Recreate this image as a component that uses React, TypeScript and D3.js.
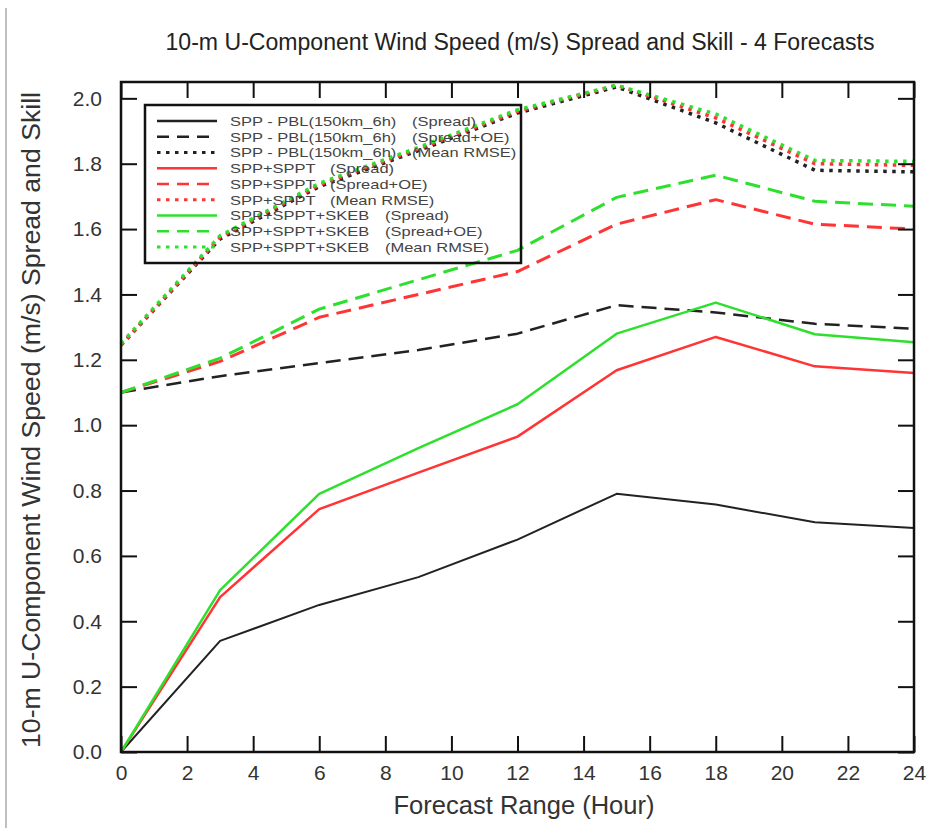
import React, { useRef, useEffect } from "react";
import * as d3 from "d3";

// forecast hours
const hours = [0, 3, 6, 9, 12, 15, 18, 21, 24];

// SPP - PBL(150km_6h)
const pblSpread = [0, 0.34, 0.45, 0.535, 0.65, 0.79, 0.757, 0.703, 0.685];
const pblSpreadOE = [1.1, 1.15, 1.19, 1.23, 1.28, 1.367, 1.345, 1.31, 1.295];
const pblRmse = [1.245, 1.57, 1.73, 1.84, 1.955, 2.035, 1.925, 1.78, 1.775];

// SPP+SPPT
const spptSpread = [0, 0.474, 0.743, 0.855, 0.965, 1.168, 1.27, 1.18, 1.16];
const spptSpreadOE = [1.1, 1.195, 1.33, 1.4, 1.47, 1.615, 1.69, 1.615, 1.6];
const spptRmse = [1.245, 1.575, 1.735, 1.845, 1.96, 2.04, 1.94, 1.8, 1.795];

// SPP+SPPT+SKEB
const skebSpread = [0, 0.495, 0.79, 0.93, 1.064, 1.28, 1.375, 1.278, 1.254];
const skebSpreadOE = [1.1, 1.205, 1.355, 1.445, 1.535, 1.697, 1.765, 1.685, 1.67];
const skebRmse = [1.25, 1.58, 1.74, 1.85, 1.965, 2.04, 1.952, 1.81, 1.807];

const xTicks = [0, 2, 4, 6, 8, 10, 12, 14, 16, 18, 20, 22, 24];
const yTicks = [0, 0.2, 0.4, 0.6, 0.8, 1.0, 1.2, 1.4, 1.6, 1.8, 2.0];

const BLACK = "#222";
const RED = "#ff3535";
const GREEN = "#2ee02e";

const DASH = "15,8";
const DOT = "3.5,5.5";

interface Series {
  name: string;
  stat: string;
  values: number[];
  color: string;
  dash: string | null;
  width: number;
}

const series: Series[] = [
  { name: "SPP - PBL(150km_6h)", stat: "(Spread)", values: pblSpread, color: BLACK, dash: null, width: 2 },
  { name: "SPP - PBL(150km_6h)", stat: "(Spread+OE)", values: pblSpreadOE, color: BLACK, dash: DASH, width: 2.5 },
  { name: "SPP - PBL(150km_6h)", stat: "(Mean RMSE)", values: pblRmse, color: BLACK, dash: DOT, width: 3.5 },
  { name: "SPP+SPPT", stat: "(Spread)", values: spptSpread, color: RED, dash: null, width: 2.5 },
  { name: "SPP+SPPT", stat: "(Spread+OE)", values: spptSpreadOE, color: RED, dash: DASH, width: 3 },
  { name: "SPP+SPPT", stat: "(Mean RMSE)", values: spptRmse, color: RED, dash: DOT, width: 3.5 },
  { name: "SPP+SPPT+SKEB", stat: "(Spread)", values: skebSpread, color: GREEN, dash: null, width: 2.5 },
  { name: "SPP+SPPT+SKEB", stat: "(Spread+OE)", values: skebSpreadOE, color: GREEN, dash: DASH, width: 3 },
  { name: "SPP+SPPT+SKEB", stat: "(Mean RMSE)", values: skebRmse, color: GREEN, dash: DOT, width: 3.5 },
];

// x offset of the stat column in the legend, per group
const statX: Record<string, number> = {
  "SPP - PBL(150km_6h)": 412,
  "SPP+SPPT": 330,
  "SPP+SPPT+SKEB": 385,
};

const width = 927;
const height = 828;
const margin = { top: 82, right: 13, bottom: 76, left: 121 };
const FONT = "'Liberation Sans', Arial, Helvetica, sans-serif";
const LEGEND_FONT = 13.5;
const LEGEND_STRETCH = 1.22; // legend text is wide but rows are tight

const App: React.FC = () => {
  const svgRef = useRef<SVGSVGElement>(null);

  useEffect(() => {
    const svg = d3.select(svgRef.current);
    svg.selectAll("*").remove();

    const x = d3
      .scaleLinear()
      .domain([0, 24])
      .range([margin.left, width - margin.right]);
    const y = d3
      .scaleLinear()
      .domain([0, 2.05])
      .range([height - margin.bottom, margin.top]);

    const x0 = x.range()[0];
    const x1 = x.range()[1];
    const y0 = y.range()[0];
    const y1 = y.range()[1];

    // scan border on the left
    svg
      .append("line")
      .attr("x1", 6)
      .attr("x2", 6)
      .attr("y1", 8)
      .attr("y2", height)
      .attr("stroke", "#aaa")
      .attr("stroke-width", 1.5);

    // title
    svg
      .append("text")
      .attr("x", 520)
      .attr("y", 50)
      .attr("text-anchor", "middle")
      .attr("font-family", FONT)
      .attr("font-size", 23)
      .attr("textLength", 709)
      .attr("lengthAdjust", "spacingAndGlyphs")
      .attr("fill", "#222")
      .text("10-m U-Component Wind Speed (m/s) Spread and Skill - 4 Forecasts");

    // lines
    const line = d3
      .line<number>()
      .x((_, i) => x(hours[i]))
      .y((d) => y(d));

    const plot = svg.append("g");
    plot
      .selectAll("path")
      .data(series)
      .enter()
      .append("path")
      .attr("d", (d) => line(d.values))
      .attr("fill", "none")
      .attr("stroke", (d) => d.color)
      .attr("stroke-width", (d) => d.width)
      .attr("stroke-dasharray", (d) => d.dash)
      .attr("stroke-linejoin", "round");

    // axes with inward ticks
    const styleAxis = (g: d3.Selection<SVGGElement, unknown, null, undefined>) => {
      g.select(".domain").remove();
      g.selectAll(".tick line").attr("stroke", "#111").attr("stroke-width", 2);
      g.selectAll(".tick text")
        .attr("font-family", FONT)
        .attr("font-size", 21)
        .attr("fill", "#333");
    };

    svg
      .append("g")
      .attr("transform", `translate(0,${y0})`)
      .call(
        d3
          .axisBottom(x)
          .tickValues(xTicks)
          .tickSize(-16)
          .tickSizeOuter(0)
          .tickPadding(13)
          .tickFormat(d3.format("d"))
      )
      .call(styleAxis);

    svg
      .append("g")
      .attr("transform", `translate(0,${y1})`)
      .call(d3.axisTop(x).tickValues(xTicks).tickSize(-16).tickSizeOuter(0).tickFormat(() => ""))
      .call(styleAxis);

    svg
      .append("g")
      .attr("transform", `translate(${x0},0)`)
      .call(
        d3
          .axisLeft(y)
          .tickValues(yTicks)
          .tickSize(-16)
          .tickSizeOuter(0)
          .tickPadding(19)
          .tickFormat(d3.format(".1f"))
      )
      .call(styleAxis);

    svg
      .append("g")
      .attr("transform", `translate(${x1},0)`)
      .call(d3.axisRight(y).tickValues(yTicks).tickSize(-16).tickSizeOuter(0).tickFormat(() => ""))
      .call(styleAxis);

    // frame
    svg
      .append("rect")
      .attr("x", x0)
      .attr("y", y1)
      .attr("width", x1 - x0)
      .attr("height", y0 - y1)
      .attr("fill", "none")
      .attr("stroke", "#111")
      .attr("stroke-width", 2.5);

    // axis titles
    svg
      .append("text")
      .attr("x", 524)
      .attr("y", 814)
      .attr("text-anchor", "middle")
      .attr("font-family", FONT)
      .attr("font-size", 25)
      .attr("textLength", 261)
      .attr("lengthAdjust", "spacingAndGlyphs")
      .attr("fill", "#333")
      .text("Forecast Range (Hour)");

    svg
      .append("text")
      .attr("transform", `translate(40,420) rotate(-90)`)
      .attr("text-anchor", "middle")
      .attr("font-family", FONT)
      .attr("font-size", 25)
      .attr("textLength", 656)
      .attr("lengthAdjust", "spacingAndGlyphs")
      .attr("fill", "#333")
      .text("10-m U-Component Wind Speed (m/s) Spread and Skill");

    // legend (transparent box)
    const legend = svg.append("g");
    legend
      .append("rect")
      .attr("x", 145)
      .attr("y", 105)
      .attr("width", 376)
      .attr("height", 158)
      .attr("fill", "none")
      .attr("stroke", "#111")
      .attr("stroke-width", 2.5);

    const rows = legend
      .selectAll("g.row")
      .data(series)
      .enter()
      .append("g")
      .attr("class", "row")
      .attr("transform", (_, i) => `translate(0,${121 + i * 15.75})`);

    rows
      .append("line")
      .attr("x1", 157)
      .attr("x2", 217)
      .attr("stroke", (d) => d.color)
      .attr("stroke-width", (d) => (d.dash === DOT ? 3 : 2.5))
      .attr("stroke-dasharray", (d) => (d.dash === DASH ? "12,8" : d.dash));

    const addText = (xPos: (d: Series) => number, label: (d: Series) => string) =>
      rows
        .append("text")
        .attr("x", xPos)
        .attr("dy", "0.36em")
        .attr("font-family", FONT)
        .attr("font-size", LEGEND_FONT)
        .attr("fill", "#444")
        .text(label)
        .each(function () {
          const t = this as SVGTextElement;
          const w = t.getComputedTextLength();
          d3.select(t)
            .attr("textLength", w * LEGEND_STRETCH)
            .attr("lengthAdjust", "spacingAndGlyphs");
        });

    addText(() => 230, (d) => d.name);
    addText((d) => statX[d.name], (d) => d.stat);
  }, []);

  return (
    <svg
      ref={svgRef}
      width={width}
      height={height}
      style={{ position: "absolute", left: 0, top: 0, background: "#fff" }}
    />
  );
};

export default App;
